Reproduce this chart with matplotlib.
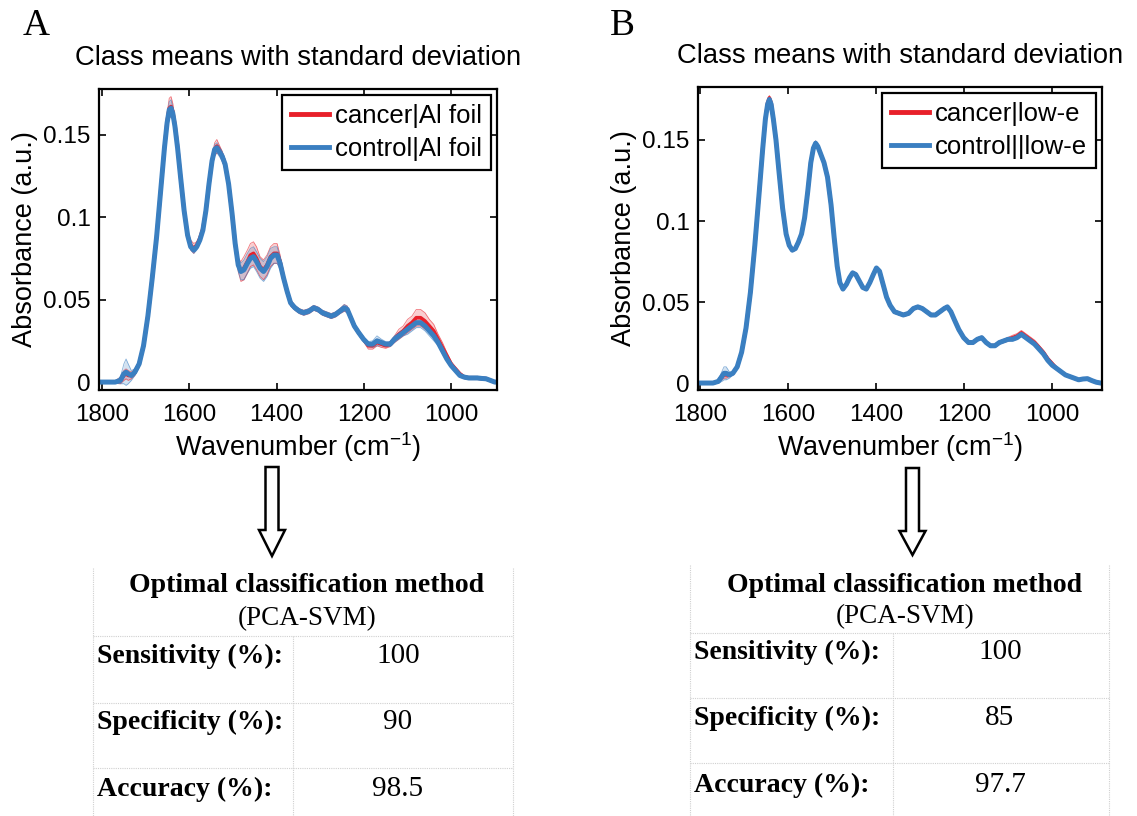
import matplotlib
matplotlib.use("Agg")
import matplotlib.pyplot as plt
from matplotlib.lines import Line2D
from matplotlib.patches import Polygon
import numpy as np

plt.rcParams['font.family'] = ['Liberation Sans', 'DejaVu Sans']

# ---- panel A: Al foil ----
wn_a = [1800, 1770, 1758, 1750, 1745, 1740, 1733, 1725, 1715, 1705,
        1695, 1685, 1675, 1665, 1657, 1651, 1646, 1642, 1638, 1633,
        1627, 1620, 1612, 1604, 1597, 1590, 1583, 1576, 1569, 1562,
        1555, 1548, 1542, 1537, 1532, 1525, 1518, 1510, 1502, 1495,
        1488, 1482, 1475, 1467, 1460, 1453, 1446, 1438, 1430, 1422,
        1414, 1406, 1399, 1392, 1384, 1376, 1368, 1358, 1348, 1338,
        1326, 1315, 1305, 1295, 1285, 1275, 1265, 1255, 1245, 1238,
        1230, 1222, 1212, 1201, 1190, 1180, 1170, 1160, 1150, 1140,
        1130, 1120, 1110, 1100, 1090, 1080, 1070, 1060, 1050, 1040,
        1030, 1020, 1010, 1000, 990, 980, 970, 960, 950, 940,
        930, 920, 910, 900, 896]
control_a = [.000, .000, .001, .005, .006, .005, .004, .006, .011, .022,
             .040, .063, .088, .118, .142, .157, .165, .166, .163, .155,
             .142, .124, .104, .089, .082, .080, .082, .086, .092, .104,
             .120, .134, .141, .142, .140, .137, .132, .120, .102, .084,
             .071, .067, .068, .072, .075, .076, .073, .069, .067, .070,
             .075, .077, .077, .072, .063, .055, .048, .045, .043, .042,
             .043, .045, .044, .042, .041, .040, .041, .043, .045, .044,
             .039, .034, .030, .026, .023, .023, .025, .024, .023, .023,
             .026, .028, .030, .032, .034, .036, .036, .034, .031, .028,
             .024, .019, .014, .010, .007, .004, .003, .0025, .0025, .0025,
             .0022, .002, .001, .000, .000]
cancer_a = [.000, .000, .001, .004, .005, .004, .004, .006, .011, .022,
            .040, .063, .088, .118, .142, .158, .166, .167, .164, .156,
            .143, .124, .104, .089, .083, .081, .083, .087, .093, .104,
            .120, .134, .141, .143, .141, .137, .132, .120, .102, .084,
            .071, .067, .069, .073, .077, .078, .075, .070, .068, .071,
            .076, .078, .078, .073, .063, .055, .048, .045, .043, .042,
            .043, .045, .044, .042, .041, .040, .041, .043, .045, .044,
            .039, .034, .030, .026, .022, .022, .024, .023, .022, .023,
            .026, .029, .031, .034, .036, .039, .039, .037, .034, .031,
            .026, .021, .016, .011, .008, .005, .003, .0025, .0025, .0025,
            .0022, .002, .001, .000, .000]
control_sd_a = [.0008, .0008, .002, .006, .008, .006, .003, .002, .002, .002,
                .002, .002, .002, .003, .003, .004, .005, .005, .004, .004,
                .003, .003, .002, .002, .002, .002, .002, .002, .002, .002,
                .002, .003, .003, .003, .003, .003, .003, .003, .003, .003,
                .004, .005, .006, .006, .006, .006, .006, .006, .006, .006,
                .006, .005, .005, .004, .003, .002, .002, .0015, .0015, .0015,
                .0015, .0015, .0015, .0015, .0015, .0015, .0015, .0015, .002, .002,
                .0015, .0015, .0015, .0015, .0015, .002, .003, .002, .0015, .0015,
                .002, .002, .002, .003, .003, .003, .003, .003, .003, .003,
                .002, .002, .0015, .0015, .001, .001, .001, .001, .001, .001,
                .001, .001, .0008, .0008, .0008]
cancer_sd_a = [.0008, .0008, .002, .003, .003, .003, .002, .002, .002, .002,
               .002, .002, .002, .003, .003, .005, .006, .006, .005, .004,
               .003, .003, .002, .002, .003, .003, .002, .002, .002, .002,
               .002, .003, .004, .004, .003, .003, .003, .003, .003, .003,
               .004, .006, .007, .007, .007, .007, .007, .006, .006, .006,
               .006, .006, .006, .004, .003, .002, .002, .0015, .0015, .0015,
               .0015, .0015, .0015, .0015, .0015, .0015, .0015, .0015, .002, .002,
               .0015, .0015, .0015, .0015, .002, .002, .002, .002, .0015, .0015,
               .002, .003, .003, .004, .004, .005, .005, .005, .004, .004,
               .003, .003, .002, .0015, .001, .001, .001, .001, .001, .001,
               .001, .001, .0008, .0008, .0008]

# ---- panel B: low-e ----
wn_b = [1800, 1770, 1758, 1750, 1745, 1740, 1733, 1725, 1715, 1705,
        1695, 1685, 1675, 1665, 1657, 1651, 1646, 1642, 1638, 1633,
        1627, 1620, 1612, 1604, 1597, 1590, 1583, 1576, 1569, 1562,
        1555, 1548, 1542, 1537, 1532, 1525, 1518, 1510, 1502, 1495,
        1488, 1482, 1475, 1467, 1460, 1453, 1446, 1438, 1430, 1422,
        1414, 1406, 1399, 1392, 1384, 1376, 1368, 1358, 1348, 1338,
        1326, 1315, 1305, 1295, 1285, 1275, 1265, 1255, 1245, 1238,
        1230, 1222, 1212, 1201, 1190, 1180, 1170, 1160, 1150, 1140,
        1130, 1120, 1110, 1100, 1090, 1080, 1070, 1060, 1050, 1040,
        1030, 1020, 1010, 1000, 990, 980, 970, 960, 950, 940,
        930, 920, 910, 900, 890]
control_b = [.000, .000, .001, .004, .006, .006, .005, .006, .010, .019,
             .034, .056, .085, .118, .145, .163, .172, .175, .172, .163,
             .150, .130, .108, .092, .085, .082, .083, .087, .092, .102,
             .118, .136, .145, .148, .146, .141, .136, .127, .110, .090,
             .072, .062, .058, .061, .065, .068, .067, .063, .059, .058,
             .062, .067, .071, .069, .061, .053, .048, .044, .043, .042,
             .043, .046, .047, .046, .044, .042, .042, .044, .046, .047,
             .044, .039, .033, .028, .025, .025, .027, .028, .025, .023,
             .023, .025, .026, .027, .027, .028, .030, .028, .026, .024,
             .021, .018, .014, .011, .009, .007, .005, .004, .003, .002,
             .0025, .0027, .0015, .0005, .000]
cancer_b = [.000, .000, .001, .004, .005, .005, .005, .006, .010, .019,
            .034, .056, .085, .118, .145, .163, .173, .176, .173, .163,
            .150, .130, .108, .092, .085, .082, .083, .087, .092, .102,
            .118, .136, .145, .148, .146, .141, .136, .127, .110, .090,
            .072, .062, .058, .061, .065, .068, .067, .063, .059, .058,
            .062, .067, .071, .069, .061, .053, .048, .044, .043, .042,
            .043, .046, .047, .046, .044, .042, .042, .044, .046, .047,
            .044, .039, .033, .028, .025, .025, .027, .028, .025, .023,
            .023, .025, .026, .027, .028, .029, .031, .029, .027, .025,
            .022, .019, .015, .012, .009, .007, .005, .004, .003, .002,
            .0025, .0027, .0015, .0005, .000]
control_sd_b = [.0006, .0006, .001, .003, .004, .004, .002, .001, .001, .001,
                .001, .001, .001, .001, .0015, .0015, .0015, .0015, .0015, .0015,
                .001, .001, .001, .001, .001, .001, .001, .001, .001, .001,
                .001, .0015, .0015, .0015, .0015, .001, .001, .001, .001, .001,
                .001, .001, .001, .001, .001, .001, .001, .001, .001, .001,
                .001, .001, .001, .001, .001, .001, .001, .001, .001, .001,
                .001, .001, .001, .001, .001, .001, .001, .001, .001, .001,
                .001, .001, .001, .001, .001, .001, .001, .001, .001, .001,
                .001, .001, .001, .001, .001, .001, .001, .001, .001, .001,
                .001, .001, .001, .001, .001, .001, .0008, .0008, .0006, .0006,
                .0006, .0006, .0006, .0006, .0006]
cancer_sd_b = [.0006, .0006, .001, .002, .002, .002, .001, .001, .001, .001,
               .001, .001, .001, .001, .0015, .0015, .0015, .0015, .0015, .0015,
               .001, .001, .001, .001, .001, .001, .001, .001, .001, .001,
               .001, .0015, .0015, .0015, .0015, .001, .001, .001, .001, .001,
               .001, .001, .001, .001, .001, .001, .001, .001, .001, .001,
               .001, .001, .001, .001, .001, .001, .001, .001, .001, .001,
               .001, .001, .001, .001, .001, .001, .001, .001, .001, .001,
               .001, .001, .001, .001, .001, .001, .001, .001, .001, .001,
               .001, .001, .001, .0012, .0015, .0015, .0015, .0015, .0015, .0015,
               .0015, .0012, .001, .001, .001, .001, .0008, .0008, .0006, .0006,
               .0006, .0006, .0006, .0006, .0006]

labels_a = ['cancer|Al foil', 'control|Al foil']
labels_b = ['cancer|low-e', 'control||low-e']
row_names = ['Sensitivity (%):', 'Specificity (%):', 'Accuracy (%):']
metrics_a = ['100', '90', '98.5']
metrics_b = ['100', '85', '97.7']
xticks = [1800, 1600, 1400, 1200, 1000]
yticks = [0, 0.05, 0.1, 0.15]
ytick_labels = ['0', '0.05', '0.1', '0.15']

RED = '#e8202a'
BLUE = '#3a7fc1'

W, H = 1137, 816
fig = plt.figure(figsize=(W / 100, H / 100), dpi=100)


def fx(px):
    return px / W


def fy(py):
    return 1 - py / H


def spectrum(ax, wn, cancer, control, cancer_sd, control_sd, labels, xlim, ylim):
    wn = np.array(wn)
    for mean, sd, col in [(cancer, cancer_sd, RED), (control, control_sd, BLUE)]:
        mean = np.array(mean)
        sd = np.array(sd)
        ax.fill_between(wn, mean - sd, mean + sd, color=col, alpha=0.22, lw=0)
        ax.plot(wn, mean - sd, color=col, lw=0.6, alpha=0.6)
        ax.plot(wn, mean + sd, color=col, lw=0.6, alpha=0.6)
    ax.plot(wn, cancer, color=RED, lw=2.6, solid_joinstyle='round')
    ax.plot(wn, control, color=BLUE, lw=3.6, solid_joinstyle='round')
    ax.set_xlim(*xlim)
    ax.set_ylim(*ylim)
    ax.set_xticks(xticks)
    ax.set_yticks(yticks)
    ax.set_yticklabels(ytick_labels)
    ax.tick_params(direction='in', top=True, right=True, labelsize=17.5, length=5, width=1.2)
    ax.tick_params(axis='x', pad=10)
    ax.tick_params(axis='y', pad=6)
    for s in ax.spines.values():
        s.set_linewidth(1.6)
    ax.set_xlabel('Wavenumber (cm$^{\\mathregular{-1}}$)', fontsize=19.5, labelpad=3)
    ax.set_ylabel('Absorbance (a.u.)', fontsize=19.5, labelpad=4)
    ax.set_title('Class means with standard deviation', fontsize=19.7, pad=17)
    h1 = Line2D([], [], color=RED, lw=3.5)
    h2 = Line2D([], [], color=BLUE, lw=3.5)
    leg = ax.legend([h1, h2], labels, loc='upper right', fontsize=18.5, fancybox=False,
                    framealpha=1, edgecolor='black', handlelength=1.5, handletextpad=0.2,
                    borderpad=0.35, labelspacing=0.35, borderaxespad=0.25)
    leg.get_frame().set_linewidth(1.6)


ax_a = fig.add_axes([fx(99), fy(390), fx(398), (390 - 89) / H])
spectrum(ax_a, wn_a, cancer_a, control_a, cancer_sd_a, control_sd_a, labels_a,
         (1807, 895), (-0.0048, 0.1776))
ax_b = fig.add_axes([fx(698), fy(390), fx(404), (390 - 87) / H])
spectrum(ax_b, wn_b, cancer_b, control_b, cancer_sd_b, control_sd_b, labels_b,
         (1804, 887), (-0.0043, 0.1827))

fig.text(fx(23), fy(26), 'A', fontsize=27, family='Liberation Serif', va='center')
fig.text(fx(610), fy(26), 'B', fontsize=27, family='Liberation Serif', va='center')


def arrow(cx, top, neck, tip, shaft_w=13, head_w=26):
    pts = [(cx - shaft_w / 2, top), (cx + shaft_w / 2, top), (cx + shaft_w / 2, neck),
           (cx + head_w / 2, neck), (cx, tip), (cx - head_w / 2, neck), (cx - shaft_w / 2, neck)]
    fig.patches.append(Polygon([(fx(x), fy(y)) for x, y in pts], closed=True,
                               facecolor='white', edgecolor='black', lw=1.8,
                               transform=fig.transFigure, figure=fig))


arrow(272, 467, 530, 556)
arrow(912.5, 468, 531, 555)


def table(left, mid, right, top, rows_y, lines_y, head_y, sub_y, head_x, val_x, values):
    gray = dict(color='#d0d0d0', lw=0.8, ls=(0, (1, 1)), transform=fig.transFigure)
    fig.add_artist(Line2D([fx(left), fx(left)], [fy(top), fy(816)], **gray))
    fig.add_artist(Line2D([fx(right), fx(right)], [fy(top), fy(816)], **gray))
    fig.add_artist(Line2D([fx(mid), fx(mid)], [fy(lines_y[0]), fy(816)], **gray))
    for ly in lines_y:
        fig.add_artist(Line2D([fx(left), fx(right)], [fy(ly), fy(ly)], **gray))
    fig.text(fx(head_x), fy(head_y), 'Optimal classification method', fontsize=20,
             family='Liberation Serif', weight='bold', ha='center', va='center')
    fig.text(fx(head_x), fy(sub_y), '(PCA-SVM)', fontsize=19.5,
             family='Liberation Serif', ha='center', va='center')
    for name, val, ry in zip(row_names, values, rows_y):
        fig.text(fx(left + 4), fy(ry), name, fontsize=20, family='Liberation Serif',
                 weight='bold', ha='left', va='center')
        fig.text(fx(val_x), fy(ry), val, fontsize=21, family='Liberation Serif',
                 ha='center', va='center')


table(93, 293, 513, 568, [656, 722, 789], [636, 703, 768], 585, 619, 307, 398, metrics_a)
table(690, 893, 1109, 565, [652, 718, 785], [633, 698, 763], 585, 617, 905, 1000, metrics_b)

fig.savefig('out.png', dpi=100)
